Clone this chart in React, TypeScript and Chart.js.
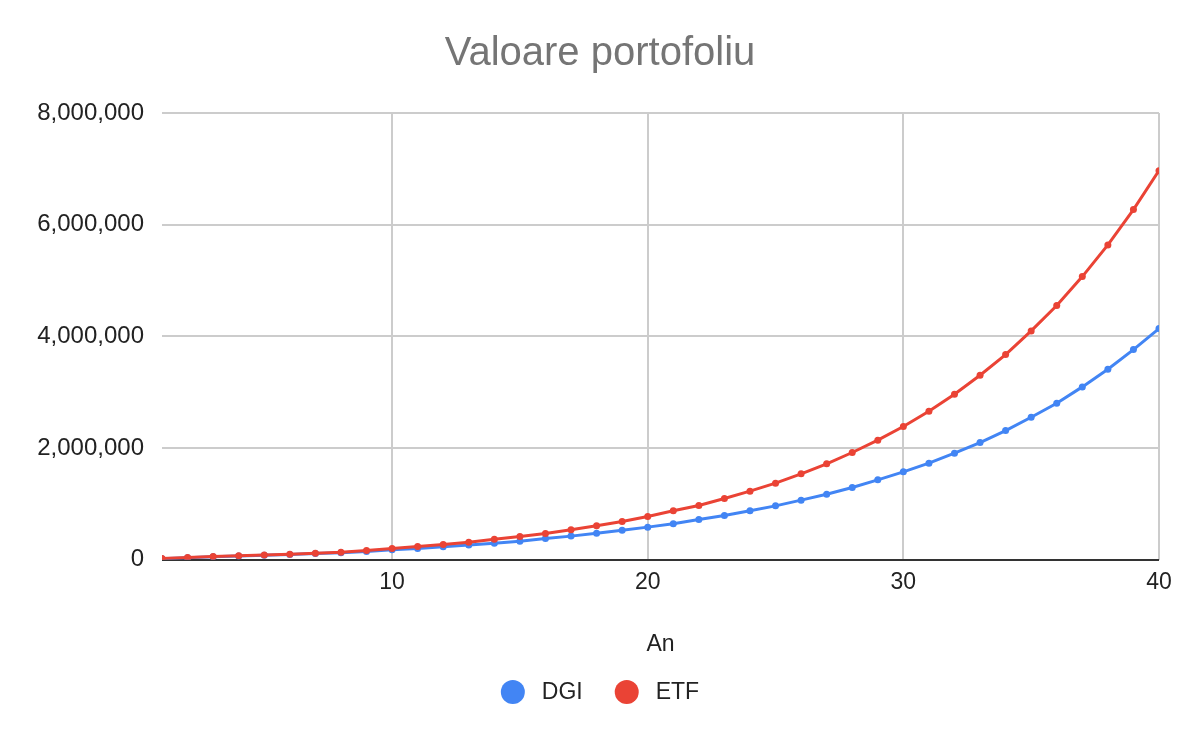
import React, { useEffect, useRef } from 'react';
import { Chart, registerables, Plugin } from 'chart.js';

Chart.register(...registerables);

const years = [
  1, 2, 3, 4, 5, 6, 7, 8, 9, 10, 11, 12, 13, 14, 15, 16, 17, 18, 19, 20,
  21, 22, 23, 24, 25, 26, 27, 28, 29, 30, 31, 32, 33, 34, 35, 36, 37, 38, 39, 40,
];

const dgiValues = [
  20000, 38000, 55000, 68000, 80000, 96000, 112000, 128000, 150000, 179000,
  203000, 233000, 263000, 298000, 334000, 382000, 424000, 477000, 531000, 585000,
  644000, 722000, 793000, 877000, 966000, 1068000, 1175000, 1295000, 1432000, 1575000,
  1730000, 1909000, 2100000, 2314000, 2553000, 2804000, 3096000, 3413000, 3764000, 4140000,
];

const etfValues = [
  23000, 42000, 60000, 72000, 84000, 101000, 119000, 137000, 167000, 203000,
  239000, 275000, 316000, 370000, 418000, 471000, 537000, 608000, 686000, 776000,
  877000, 972000, 1097000, 1229000, 1372000, 1539000, 1718000, 1921000, 2142000, 2386000,
  2661000, 2965000, 3305000, 3675000, 4098000, 4552000, 5071000, 5638000, 6270000, 6968000,
];

const xTicks = [10, 20, 30, 40];

const chartTitle = 'Valoare portofoliu';

const FONT = 'Arial, "Liberation Sans", sans-serif';

// title centred on the whole canvas + legend drawn by hand under the plot
const sheetDecor: Plugin<'line'> = {
  id: 'sheetDecor',
  afterDraw(chart) {
    const { ctx } = chart;
    ctx.save();

    ctx.font = `40px ${FONT}`;
    ctx.fillStyle = '#757575';
    ctx.textAlign = 'center';
    ctx.textBaseline = 'alphabetic';
    ctx.fillText(chartTitle, chart.width / 2, 65);

    const sets = chart.data.datasets;
    const r = 12;
    const gapText = 17;
    const gapItem = 32;
    ctx.font = `23px ${FONT}`;
    const widths = sets.map((d) => 2 * r + gapText + ctx.measureText(String(d.label)).width);
    const total = widths.reduce((a, b) => a + b, 0) + gapItem * (sets.length - 1);
    let x = chart.width / 2 - total / 2;
    const y = 692;
    sets.forEach((d, i) => {
      ctx.fillStyle = d.borderColor as string;
      ctx.beginPath();
      ctx.arc(x + r, y, r, 0, Math.PI * 2);
      ctx.fill();
      ctx.fillStyle = '#222222';
      ctx.textBaseline = 'middle';
      ctx.textAlign = 'left';
      ctx.fillText(String(d.label), x + 2 * r + gapText, y + 1);
      x += widths[i] + gapItem;
    });
    ctx.restore();
  },
};

const App: React.FC = () => {
  const chartRef = useRef<HTMLCanvasElement | null>(null);

  useEffect(() => {
    document.body.style.margin = '0';
    if (!chartRef.current) return;

    const chartInstance = new Chart(chartRef.current, {
      type: 'line',
      data: {
        datasets: [
          {
            label: 'DGI',
            data: years.map((x, i) => ({ x, y: dgiValues[i] })),
            borderColor: '#4285F4',
            backgroundColor: '#4285F4',
            borderWidth: 3,
            pointRadius: 3.5,
            pointBorderWidth: 0,
            pointBackgroundColor: '#4285F4',
            tension: 0,
            order: 2,
          },
          {
            label: 'ETF',
            data: years.map((x, i) => ({ x, y: etfValues[i] })),
            borderColor: '#EA4335',
            backgroundColor: '#EA4335',
            borderWidth: 3,
            pointRadius: 3.5,
            pointBorderWidth: 0,
            pointBackgroundColor: '#EA4335',
            tension: 0,
            order: 1,
          },
        ],
      },
      options: {
        responsive: false,
        animation: false,
        layout: { padding: { left: 0, right: 41, top: 113, bottom: 83.2 } },
        plugins: {
          legend: { display: false },
          tooltip: { enabled: false },
          title: { display: false },
        },
        scales: {
          x: {
            type: 'linear',
            min: 1,
            max: 40,
            afterBuildTicks: (scale) => {
              scale.ticks = xTicks.map((value) => ({ value }));
            },
            grid: { color: '#cccccc', lineWidth: 2, drawTicks: false },
            border: { display: false },
            ticks: {
              color: '#222222',
              padding: 9.2,
              maxRotation: 0,
              font: { family: FONT, size: 23 },
            },
            title: {
              display: true,
              text: 'An',
              color: '#222222',
              font: { family: FONT, size: 23 },
              padding: { top: 25.4, bottom: 0 },
            },
          },
          y: {
            min: 0,
            max: 8000000,
            afterFit: (scale) => {
              scale.width = 162;
            },
            grid: {
              color: (c) => (c.tick && c.tick.value === 0 ? '#333333' : '#cccccc'),
              lineWidth: 2,
              drawTicks: false,
            },
            border: { display: false },
            ticks: {
              stepSize: 2000000,
              color: '#222222',
              padding: 18,
              font: { family: FONT, size: 24 },
              callback: (v) => Number(v).toLocaleString('en-US'),
            },
          },
        },
      },
      plugins: [sheetDecor],
    });

    return () => {
      chartInstance.destroy();
    };
  }, []);

  return (
    <div style={{ width: 1200, height: 742, background: '#ffffff' }}>
      <canvas ref={chartRef} width={1200} height={742}></canvas>
    </div>
  );
};

export default App;
